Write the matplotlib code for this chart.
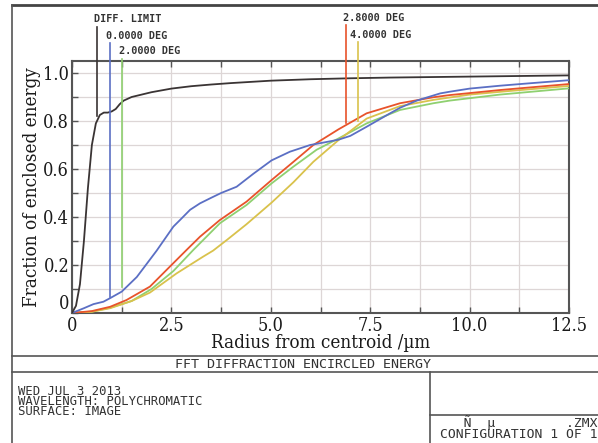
import matplotlib
matplotlib.use("Agg")
import matplotlib.pyplot as plt
from matplotlib.lines import Line2D
from matplotlib.ticker import MultipleLocator

# ---------------- data ----------------
diff_x = [0, 0.1, 0.2, 0.3, 0.4, 0.5, 0.6, 0.7, 0.8, 0.9, 1.0, 1.1, 1.2, 1.3, 1.5, 1.75, 2.0, 2.5,
          3.0, 3.5, 4.0, 5.0, 6.0, 7.0, 8.0, 9.0, 10.0, 11.0, 12.5]
diff_y = [0, 0.03, 0.12, 0.30, 0.52, 0.70, 0.79, 0.825, 0.835, 0.835, 0.84, 0.85, 0.87, 0.885, 0.90,
          0.91, 0.92, 0.935, 0.945, 0.952, 0.958, 0.968, 0.974, 0.978, 0.981, 0.983, 0.985, 0.987, 0.99]

f0_x = [0, 0.3, 0.54, 0.79, 0.96, 1.25, 1.63, 2.13, 2.55, 2.72, 2.97, 3.22, 3.5, 3.75, 4.14, 4.56,
        5.02, 5.48, 5.99, 6.32, 6.7, 7.0, 7.41, 8.0, 8.25, 8.67, 9.26, 9.5, 10.0, 10.76, 11.5, 12.5]
f0_y = [0, 0.02, 0.037, 0.047, 0.062, 0.089, 0.15, 0.26, 0.36, 0.388, 0.43, 0.457, 0.48, 0.50, 0.526,
        0.58, 0.636, 0.672, 0.70, 0.71, 0.722, 0.738, 0.776, 0.832, 0.855, 0.885, 0.915, 0.922, 0.935,
        0.947, 0.957, 0.97]

f2_x = [0, 0.5, 0.96, 1.5, 2.0, 2.55, 3.05, 3.72, 4.39, 5.02, 5.57, 6.15, 6.7, 7.41, 8.25, 9.09, 9.5,
        10.76, 12.5]
f2_y = [0, 0.006, 0.022, 0.05, 0.10, 0.175, 0.2625, 0.374, 0.45, 0.54, 0.61, 0.68, 0.727, 0.79,
        0.846, 0.874, 0.885, 0.91, 0.936]

f28_x = [0, 0.5, 0.96, 1.37, 1.96, 2.46, 2.88, 3.22, 3.72, 4.39, 5.02, 5.57, 6.07, 6.7, 7.41, 8.25,
         9.09, 9.5, 10.76, 12.5]
f28_y = [0, 0.008, 0.026, 0.054, 0.11, 0.193, 0.2625, 0.318, 0.3875, 0.464, 0.554, 0.63, 0.70, 0.765,
         0.832, 0.874, 0.899, 0.908, 0.929, 0.954]

f4_x = [0, 0.5, 0.96, 1.5, 1.96, 2.63, 3.3, 3.55, 3.9, 4.39, 5.02, 5.57, 6.07, 6.7, 7.41, 8.25, 9.09,
        10.0, 11.0, 12.5]
f4_y = [0, 0.005, 0.02, 0.05, 0.085, 0.165, 0.235, 0.26, 0.305, 0.37, 0.46, 0.545, 0.63, 0.72, 0.81,
        0.862, 0.888, 0.91, 0.925, 0.946]

series_names = ["DIFF. LIMIT", "0.0000 DEG", "2.0000 DEG", "2.8000 DEG", "4.0000 DEG"]
marker_x = [0.63, 0.96, 1.26, 6.89, 7.19]        # x where label lines meet the curves
marker_y = [0.82, 0.067, 0.11, 0.79, 0.80]       # curve value at that x
label_top = [1.19, 1.125, 1.06, 1.20, 1.13]      # top of label lines (data units)

x_ticks = [0, 2.5, 5.0, 7.5, 10.0, 12.5]
x_tick_labels = ["0", "2.5", "5.0", "7.5", "10.0", "12.5"]
y_ticks = [0, 0.2, 0.4, 0.6, 0.8, 1.0]
y_tick_labels = ["0", "0.2", "0.4", "0.6", "0.8", "1.0"]

info_lines = ["WED JUL 3 2013", "WAVELENGTH: POLYCHROMATIC", "SURFACE: IMAGE"]
config_lines = ["   Ñ  µ         .ZMX", "CONFIGURATION 1 OF 1"]
block_title = "FFT DIFFRACTION ENCIRCLED ENERGY"

# ---------------- figure ----------------
W, H = 598, 443
fig = plt.figure(figsize=(W / 100, H / 100), dpi=100)
fig.patch.set_facecolor("white")

def fx(px):
    return px / W

def fy(py):
    return 1 - py / H

ax = fig.add_axes([fx(72), fy(313), fx(569) - fx(72), fy(61) - fy(313)])

colors = ["#3a3434", "#5b6fc4", "#8fd070", "#e8532b", "#d9c24c"]
xs = [diff_x, f0_x, f2_x, f28_x, f4_x]
ys = [diff_y, f0_y, f2_y, f28_y, f4_y]
order = [2, 4, 3, 1, 0]
for i in order:
    ax.plot(xs[i], ys[i], color=colors[i], lw=1.3, zorder=3, solid_joinstyle="round")

# label lines
for i in range(5):
    ax.plot([marker_x[i], marker_x[i]], [marker_y[i], label_top[i]], color=colors[i],
            lw=1.2, clip_on=False, zorder=3)

mono = "DejaVu Sans Mono"
label_pos = [(0.55, 1.225), (0.86, 1.155), (1.17, 1.09), (6.82, 1.23), (7.0, 1.16)]
for i in range(5):
    ax.text(label_pos[i][0], label_pos[i][1], series_names[i], family=mono, fontsize=7.3,
            color="#333333", ha="left", va="center", clip_on=False, fontweight="bold")

ax.set_xlim(0, 12.5)
ax.set_ylim(0, 1.05)
ax.set_xticks(x_ticks)
ax.set_xticklabels(x_tick_labels)
ax.set_yticks(y_ticks)
ax.set_yticklabels(y_tick_labels)
ax.xaxis.set_minor_locator(MultipleLocator(1.25))
ax.yaxis.set_minor_locator(MultipleLocator(0.1))
ax.grid(True, which="both", color="#ddd6d6", lw=0.9, zorder=0)
ax.set_axisbelow(True)
ax.tick_params(which="both", direction="in", top=True, right=False, length=4, width=1.0,
               color="#555555", labelsize=13, pad=2)
ax.tick_params(axis="x", pad=3)
for sp in ax.spines.values():
    sp.set_color("#555555")
    sp.set_linewidth(1.5)
for lab in ax.get_xticklabels() + ax.get_yticklabels():
    lab.set_family("DejaVu Serif")
    lab.set_fontstretch("condensed")
    lab.set_color("#1a1a1a")
ax.yaxis.get_major_ticks()[0].label1.set_verticalalignment("bottom")
ax.set_xlabel("Radius from centroid /µm", family="DejaVu Serif", fontstretch="condensed",
              fontsize=13.5, labelpad=-1, color="#1a1a1a")
ax.set_ylabel("Fraction of enclosed energy", family="DejaVu Serif", fontstretch="condensed",
              fontsize=13.5, labelpad=2, color="#1a1a1a")

# ---------------- frame / title block ----------------
def hline(py, x0, x1, lw=1.2, c="#555555"):
    fig.add_artist(Line2D([fx(x0), fx(x1)], [fy(py), fy(py)], color=c, lw=lw))

def vline(px, y0, y1, lw=1.2, c="#555555"):
    fig.add_artist(Line2D([fx(px), fx(px)], [fy(y0), fy(y1)], color=c, lw=lw))

hline(5, 12, 598, lw=2.0, c="#444444")
vline(12, 5, 443, lw=1.2)
hline(356, 12, 598)
hline(372, 12, 598)
vline(430, 372, 443)
hline(415, 430, 598)

fig.text(fx(303), fy(364), block_title, family=mono, fontsize=9.6,
         ha="center", va="center", color="#333333")
fig.text(fx(18), fy(385), "\n".join(info_lines), family=mono, fontsize=8.8, ha="left",
         va="top", color="#333333", linespacing=0.72)
fig.text(fx(597), fy(441), "\n".join(config_lines), family=mono, fontsize=9.4, ha="right",
         va="bottom", color="#333333", linespacing=0.85, multialignment="left")

fig.savefig("out.png", dpi=100, facecolor="white")
